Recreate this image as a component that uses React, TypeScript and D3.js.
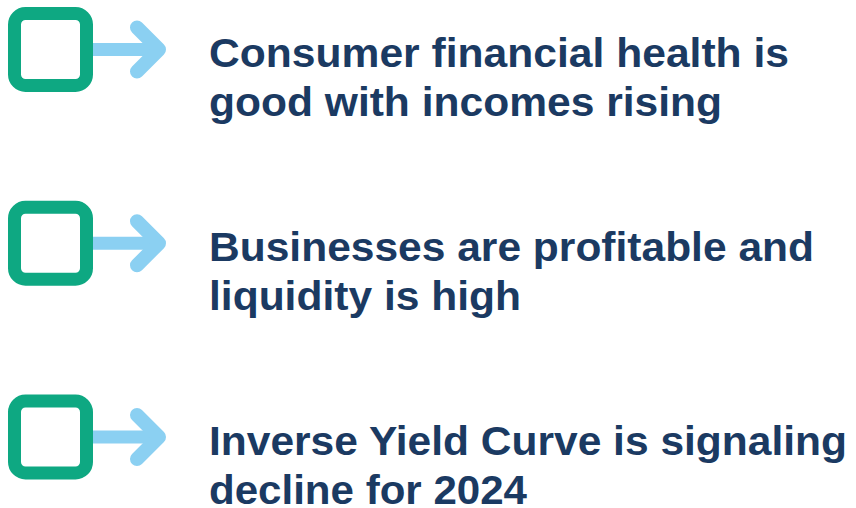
import React, { useEffect, useRef } from "react";
import * as d3 from "d3";

const W = 856;
const H = 508;

const items = ["consumer", "business", "yield"];
const lineOne = [
  "Consumer financial health is",
  "Businesses are profitable and",
  "Inverse Yield Curve is signaling",
];
const lineTwo = [
  "good with incomes rising",
  "liquidity is high",
  "decline for 2024",
];
const lineOneWidth = [580, 605, 638];
const lineTwoWidth = [513, 312, 318];

const GREEN = "#0EA882";
const BLUE = "#8BD0F2";
const NAVY = "#1B3A62";

export default function App() {
  const ref = useRef<SVGSVGElement | null>(null);

  useEffect(() => {
    const svg = d3.select(ref.current);
    svg.selectAll("*").remove();

    const y = d3.scalePoint<string>().domain(items).range([49.5, 437]);

    const g = svg
      .selectAll("g.item")
      .data(items)
      .join("g")
      .attr("class", "item")
      .attr("transform", (d) => `translate(0,${y(d)})`);

    // arrow shaft
    g.append("line")
      .attr("x1", 84)
      .attr("x2", 158)
      .attr("y1", 0)
      .attr("y2", 0)
      .attr("stroke", BLUE)
      .attr("stroke-width", 13);

    // arrow head
    g.append("path")
      .attr("d", d3.line()([[137, -22], [159, 0], [137, 22]]))
      .attr("fill", "none")
      .attr("stroke", BLUE)
      .attr("stroke-width", 14)
      .attr("stroke-linecap", "round")
      .attr("stroke-linejoin", "round");

    // rounded square
    g.append("rect")
      .attr("x", 14.5)
      .attr("y", -36)
      .attr("width", 72)
      .attr("height", 72)
      .attr("rx", 11)
      .attr("fill", "#fff")
      .attr("stroke", GREEN)
      .attr("stroke-width", 13);

    const t = g
      .append("text")
      .attr("fill", NAVY)
      .attr("font-family", "'Liberation Sans', Arial, sans-serif")
      .attr("font-weight", "bold")
      .attr("font-size", 41);

    t.append("tspan")
      .attr("x", 209)
      .attr("y", 17.5)
      .attr("textLength", (_d, i) => lineOneWidth[i])
      .attr("lengthAdjust", "spacingAndGlyphs")
      .text((_d, i) => lineOne[i]);

    t.append("tspan")
      .attr("x", 209)
      .attr("y", 66.5)
      .attr("textLength", (_d, i) => lineTwoWidth[i])
      .attr("lengthAdjust", "spacingAndGlyphs")
      .text((_d, i) => lineTwo[i]);
  }, []);

  return (
    <svg
      ref={ref}
      width={W}
      height={H}
      viewBox={`0 0 ${W} ${H}`}
      style={{ position: "absolute", left: 0, top: 0, background: "#fff" }}
    />
  );
}
